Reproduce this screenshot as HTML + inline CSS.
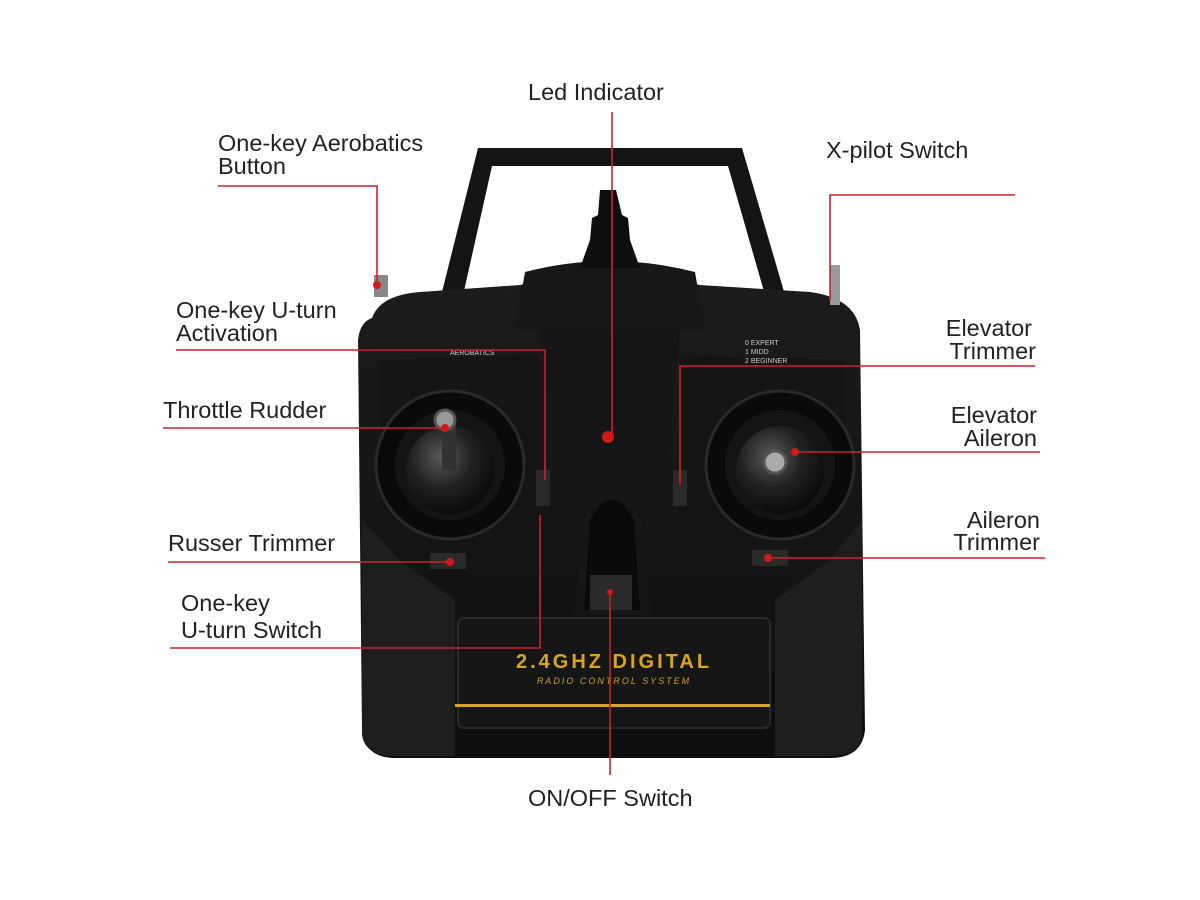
<!DOCTYPE html>
<html><head><meta charset="utf-8"><style>
html,body{margin:0;padding:0;background:#fff;width:1200px;height:900px;overflow:hidden}
svg{display:block}
text{font-family:"Liberation Sans",sans-serif;fill:#222;font-size:23.5px}
</style></head><body>
<svg width="1200" height="900" viewBox="0 0 1200 900">
<defs>
<radialGradient id="dome" cx="40%" cy="35%" r="70%"><stop offset="0" stop-color="#5a5a5a"/><stop offset=".5" stop-color="#222"/><stop offset="1" stop-color="#080808"/></radialGradient>
<linearGradient id="body" x1="0" y1="0" x2="0" y2="1"><stop offset="0" stop-color="#1c1c1c"/><stop offset="1" stop-color="#0e0e0e"/></linearGradient>
</defs>
<path d="M440 300 L478 148 L742 148 L785 295 L765 295 L728 166 L492 166 L462 300 Z" fill="#141414"/>
<path d="M372 318 Q380 295 420 292 L520 285 Q610 262 700 285 L810 292 Q855 298 860 330 L865 730 Q862 758 830 758 L395 758 Q365 758 362 730 L358 340 Q360 322 372 318 Z" fill="url(#body)"/>
<path d="M362 520 L362 735 Q365 756 395 756 L455 756 L455 600 L400 560 Z" fill="#1e1e1e"/>
<path d="M862 520 L862 735 Q860 756 830 756 L775 756 L775 600 L830 560 Z" fill="#1e1e1e"/>
<path d="M515 330 L525 272 Q610 250 695 272 L705 330 Z" fill="#181818"/>
<path d="M540 330 L680 330 L668 470 L640 500 L650 615 L575 615 L585 500 L555 470 Z" fill="#161616"/>
<path d="M590 520 Q612 480 634 520 L640 610 L584 610 Z" fill="#0a0a0a"/>
<rect x="590" y="575" width="42" height="35" fill="#2a2a2a"/>
<path d="M600 190 L616 190 L622 215 L628 218 L630 240 L640 268 L580 268 L590 240 L592 218 L598 215 Z" fill="#0e0e0e"/>
<path d="M380 360 L540 355 L540 520 L380 540 Z" fill="#141414" opacity=".7"/>
<path d="M845 360 L680 355 L680 520 L845 540 Z" fill="#141414" opacity=".7"/>
<circle cx="450" cy="465" r="74" fill="#0a0a0a" stroke="#2a2a2a" stroke-width="3"/>
<circle cx="450" cy="465" r="55" fill="#141414"/>
<circle cx="450" cy="470" r="44" fill="url(#dome)"/>
<rect x="442" y="420" width="14" height="50" fill="#333"/>
<circle cx="445" cy="420" r="10" fill="#999" stroke="#555" stroke-width="3"/>
<circle cx="780" cy="465" r="74" fill="#0a0a0a" stroke="#2a2a2a" stroke-width="3"/>
<circle cx="780" cy="465" r="55" fill="#141414"/>
<circle cx="780" cy="470" r="44" fill="url(#dome)"/>
<circle cx="775" cy="462" r="11" fill="#aaa" stroke="#555" stroke-width="3"/>
<rect x="430" y="553" width="36" height="16" fill="#2a2a2a"/>
<rect x="752" y="550" width="36" height="16" fill="#2a2a2a"/>
<rect x="536" y="470" width="14" height="36" fill="#2a2a2a"/>
<rect x="673" y="470" width="14" height="36" fill="#2a2a2a"/>
<rect x="374" y="275" width="14" height="22" fill="#888"/>
<rect x="830" y="265" width="10" height="40" fill="#999"/>
<rect x="458" y="618" width="312" height="110" rx="6" fill="#161616" stroke="#2a2a2a" stroke-width="2"/>
<text x="614" y="668" text-anchor="middle" style="fill:#d9a520;font-size:20px;font-weight:bold;letter-spacing:3px">2.4GHZ DIGITAL</text>
<text x="614" y="684" text-anchor="middle" style="fill:#c9a030;font-size:9px;letter-spacing:2px;font-style:italic">RADIO CONTROL SYSTEM</text>
<rect x="455" y="704" width="315" height="3" fill="#d9a520"/>
<text x="450" y="355" style="fill:#ccc;font-size:7px">AEROBATICS</text>
<text x="745" y="345" style="fill:#ccc;font-size:7px">0 EXPERT</text>
<text x="745" y="354" style="fill:#ccc;font-size:7px">1 MIDD</text>
<text x="745" y="363" style="fill:#ccc;font-size:7px">2 BEGINNER</text>
<g stroke="#c8232c" stroke-width="1.6" fill="none">
<path d="M612 112 V435"/>
<path d="M218 186 H377 V285"/>
<path d="M1015 195 H830 V300"/>
<path d="M176 350 H545 V480"/>
<path d="M163 428 H445"/>
<path d="M168 562 H450"/>
<path d="M170 648 H540 V515"/>
<path d="M1035 366 H680 V485"/>
<path d="M1040 452 H795"/>
<path d="M1045 558 H768"/>
<path d="M610 590 V775"/>
</g>
<g fill="#d01a1a">
<circle cx="608" cy="437" r="6"/><circle cx="445" cy="428" r="4"/><circle cx="450" cy="562" r="4"/>
<circle cx="795" cy="452" r="4"/><circle cx="768" cy="558" r="4"/><circle cx="377" cy="285" r="4"/>
<circle cx="610" cy="592" r="3"/>
</g>
<text x="528" y="100">Led Indicator</text>
<text x="218" y="151">One-key Aerobatics</text>
<text x="218" y="174">Button</text>
<text x="826" y="158">X-pilot Switch</text>
<text x="176" y="318">One-key U-turn</text>
<text x="176" y="341">Activation</text>
<text x="163" y="418">Throttle Rudder</text>
<text x="168" y="551">Russer Trimmer</text>
<text x="181" y="611">One-key</text>
<text x="181" y="638">U-turn Switch</text>
<text x="1032" y="336" text-anchor="end">Elevator</text>
<text x="1036" y="359" text-anchor="end">Trimmer</text>
<text x="1037" y="423" text-anchor="end">Elevator</text>
<text x="1037" y="446" text-anchor="end">Aileron</text>
<text x="1040" y="528" text-anchor="end">Aileron</text>
<text x="1040" y="550" text-anchor="end">Trimmer</text>
<text x="528" y="806">ON/OFF Switch</text>
</svg>
</body></html>
